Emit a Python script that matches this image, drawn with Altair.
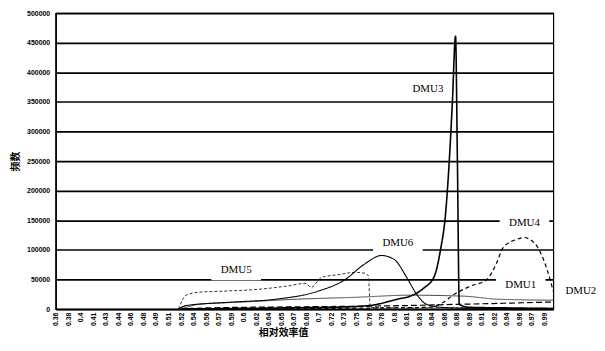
import json
import altair as alt
import pandas as pd

# x-axis category labels (relative efficiency values)
labels = ["0.36", "0.38", "0.4", "0.41", "0.43", "0.44", "0.46", "0.48", "0.49", "0.51",
          "0.52", "0.54", "0.56", "0.57", "0.59", "0.6", "0.62", "0.64", "0.65", "0.67",
          "0.68", "0.7", "0.72", "0.73", "0.75", "0.76", "0.78", "0.8", "0.81", "0.83",
          "0.84", "0.86", "0.88", "0.89", "0.91", "0.92", "0.94", "0.96", "0.97", "0.99"]

# series: x = position along the category axis (label index), y = frequency
dmu1_x = [9.8, 10.4, 11.4, 15, 19.3, 24, 28.3, 32.6, 35.2, 39.7]
dmu1_y = [0, 3000, 8000, 12000, 16800, 20000, 23500, 21800, 16800, 15000]

dmu2_x = [9.8, 12, 20, 28, 32, 36, 39.7]
dmu2_y = [0, 2000, 4000, 6000, 8000, 10000, 12000]

dmu3_x = [9.8, 14, 18, 22, 25, 27.3, 28.3, 29.4, 30.2, 30.7, 31.1, 31.4, 31.65, 31.9, 32.05, 32.2, 33, 36, 39.7]
dmu3_y = [0, 1000, 2000, 3000, 6000, 17000, 22000, 36000, 55000, 100000, 160000, 250000, 350000, 461000,
          250000, 8000, 3000, 2000, 1000]

dmu4_x = [9.8, 20, 26, 29.6, 30.8, 31.8, 33.0, 34.4, 35.2, 35.7, 36.8, 37.4, 37.8, 38.4, 39.2, 39.7]
dmu4_y = [0, 1000, 2000, 3000, 10000, 25000, 38000, 50000, 79000, 104000, 118000, 121000, 118000, 106000, 67000, 30000]

dmu5_x = [9.8, 10.4, 11.4, 13, 16.2, 18.5, 19.9, 20.4, 21.2, 22.5, 23.9, 24.7, 24.95, 25.1, 28, 32, 36, 39.7]
dmu5_y = [0, 23500, 28500, 30000, 33500, 39000, 43500, 37000, 53500, 58000, 62000, 60500, 56000, 3000,
          2000, 2000, 1500, 1500]

dmu6_x = [9.8, 10.4, 13.8, 17.7, 20.9, 23.1, 24.6, 26.0, 27.0, 28.1, 28.8, 29.6, 30.8, 33, 39.7]
dmu6_y = [0, 6000, 11500, 17000, 30000, 50000, 75500, 90500, 84000, 50000, 25000, 8000, 3000, 1500, 1000]

# series annotations
label_names = ["DMU3", "DMU6", "DMU5", "DMU4", "DMU1", "DMU2"]
label_x = [29.7, 27.3, 14.4, 37.4, 37.1, 41.9]
label_y = [372500, 112400, 65400, 146000, 40300, 30200]

y_ticks = list(range(0, 500001, 50000))

series = [
    ("DMU1", dmu1_x, dmu1_y, "#444444", 1.0, [1, 0]),
    ("DMU2", dmu2_x, dmu2_y, "#000000", 1.2, [6, 3]),
    ("DMU5", dmu5_x, dmu5_y, "#333333", 1.0, [3, 2]),
    ("DMU6", dmu6_x, dmu6_y, "#000000", 1.1, [1, 0]),
    ("DMU4", dmu4_x, dmu4_y, "#000000", 1.2, [4, 3]),
    ("DMU3", dmu3_x, dmu3_y, "#000000", 1.6, [1, 0]),
]

x_scale = alt.Scale(domain=[0, 39.7], nice=False, zero=False)
y_scale = alt.Scale(domain=[0, 500000], nice=False)

label_expr = json.dumps(labels) + "[datum.value]"

x_axis = alt.Axis(
    values=list(range(len(labels))), labelExpr=label_expr, labelAngle=270,
    labelFont="Liberation Sans", labelFontSize=7, labelFontWeight="bold", labelColor="black",
    labelOverlap=False, labelFlush=False, labelPadding=3, ticks=False, grid=False,
    domainColor="black", domainWidth=1.5,
    title="相对效率值", titleFont="Noto Sans CJK SC", titleFontSize=10, titleFontWeight="bold",
    titleColor="black", titleX=229, titleY=24, titleBaseline="middle", titleAlign="center",
)
y_axis = alt.Axis(
    values=y_ticks, format="d", labelFont="Liberation Sans", labelFontSize=7,
    labelFontWeight="bold", labelColor="black", labelPadding=6, ticks=False,
    grid=True, gridColor="black", gridWidth=1.7, domainColor="black", domainWidth=1.5,
    title="频数", titleFont="Noto Sans CJK SC", titleFontSize=10, titleFontWeight="bold",
    titleColor="black", titlePadding=6,
)

layers = []

lab_df = pd.DataFrame({"name": label_names, "x": label_x, "y": label_y})

box_shape = "M-1,-0.4L1,-0.4L1,0.4L-1,0.4Z"
boxes = alt.Chart(lab_df[lab_df["name"] != "DMU3"]).mark_point(
    shape=box_shape, filled=True, color="white", opacity=1, size=2500, strokeWidth=0
).encode(
    x=alt.X("x:Q", scale=x_scale, axis=x_axis),
    y=alt.Y("y:Q", scale=y_scale, axis=y_axis),
)
layers.append(boxes)

for name, xs, ys, color, width, dash in series:
    df = pd.DataFrame({"x": xs, "y": ys, "series": name})
    line = alt.Chart(df).mark_line(
        color=color, strokeWidth=width, strokeDash=dash, interpolate="monotone"
    ).encode(
        x=alt.X("x:Q", scale=x_scale, axis=x_axis),
        y=alt.Y("y:Q", scale=y_scale, axis=y_axis),
    )
    layers.append(line)

texts = alt.Chart(lab_df).mark_text(
    font="Liberation Serif", fontSize=11, color="black", align="center", baseline="middle"
).encode(
    x=alt.X("x:Q", scale=x_scale, axis=x_axis),
    y=alt.Y("y:Q", scale=y_scale, axis=y_axis),
    text="name:N",
)
layers.append(texts)

chart = alt.layer(*layers).properties(
    width=501, height=298,
    autosize=alt.AutoSizeParams(type="none"),
    padding={"left": 48, "top": 4, "right": 44, "bottom": 36},
    background="white",
).configure_view(stroke="black", strokeWidth=1.2)

chart.save("out.html", embed_options={"renderer": "svg", "actions": False})
